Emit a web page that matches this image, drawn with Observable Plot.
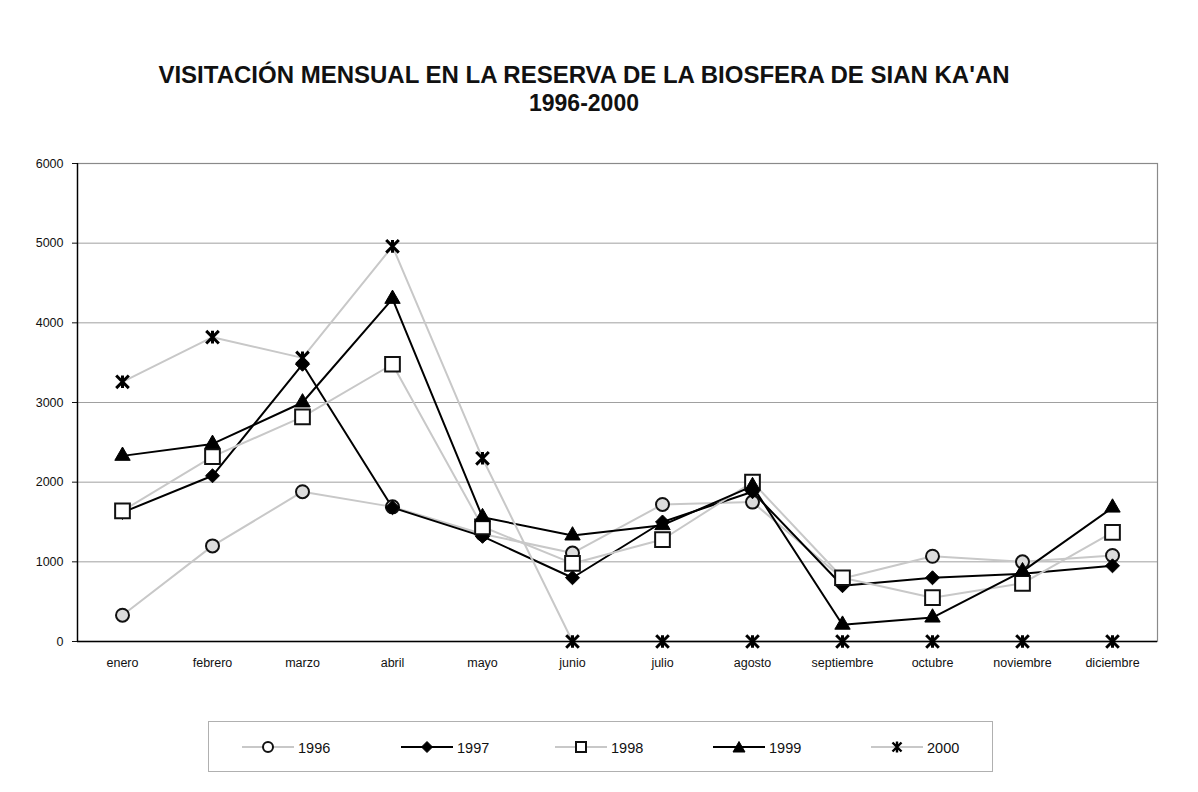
<!DOCTYPE html>
<html>
<head>
<meta charset="utf-8">
<script src="https://cdn.jsdelivr.net/npm/d3@7"></script>
<script src="https://cdn.jsdelivr.net/npm/@observablehq/plot@0.6"></script>
<style>
  html, body { margin: 0; padding: 0; background: #ffffff; }
  #wrap { position: relative; width: 1198px; height: 792px; font-family: "Liberation Sans", Arial, sans-serif; }
  #title { height: 120px; width: 1168px; text-align: center; font-weight: bold; color: #111; }
  #title .l1 { padding-top: 62px; font-size: 24px; line-height: 26px; display: block; }
  #title .l2 { font-size: 23px; line-height: 26px; display: block; margin-top: 2px; }
  #chart svg { display: block; }
  #legend { position: absolute; left: 208px; top: 721px; width: 785px; height: 51px; border: 1px solid #b0b0b0; box-sizing: border-box; }
  .item { position: absolute; top: 0; height: 51px; }
  .item svg { position: absolute; top: 17px; }
  .item span { position: absolute; top: 17px; font-size: 14.5px; line-height: 18px; color: #111; }
</style>
</head>
<body>
<div id="wrap">
  <div id="title"><span class="l1">VISITACIÓN MENSUAL EN LA RESERVA DE LA BIOSFERA DE SIAN KA'AN</span><span class="l2">1996-2000</span></div>
  <div id="chart"></div>
  <div id="legend"></div>
</div>
<script>
// ---- data ----
const months = ["enero","febrero","marzo","abril","mayo","junio","julio","agosto","septiembre","octubre","noviembre","diciembre"];
const years = ["1996","1997","1998","1999","2000"];
const v1996 = [330, 1200, 1880, 1690, 1350, 1110, 1720, 1750, 790, 1070, 1000, 1080];
const v1997 = [1620, 2080, 3480, 1680, 1320, 800, 1500, 1880, 700, 800, 850, 950];
const v1998 = [1640, 2320, 2820, 3480, 1440, 980, 1280, 2000, 800, 550, 730, 1370];
const v1999 = [2330, 2480, 3000, 4300, 1560, 1330, 1460, 1950, 210, 300, 880, 1680];
const v2000 = [3260, 3820, 3560, 4960, 2300, 0, 0, 0, 0, 0, 0, 0];
const yTicks = [0, 1000, 2000, 3000, 4000, 5000, 6000];

const seriesValues = {"1996": v1996, "1997": v1997, "1998": v1998, "1999": v1999, "2000": v2000};
const rows = years.flatMap(y => months.map((m, i) => ({year: y, month: m, value: seriesValues[y][i]})));
const bySeries = y => rows.filter(d => d.year === y);

// Excel-like star marker: an X with a vertical bar
const starSymbol = {
  draw(context, size) {
    const r = Math.sqrt(size / Math.PI);
    context.moveTo(-r, -r); context.lineTo(r, r);
    context.moveTo(-r, r); context.lineTo(r, -r);
    context.moveTo(0, -r); context.lineTo(0, r);
  }
};

// ---- styles ----
const LIGHT = "#c8c8c8";
const styles = {
  "1996": {line: LIGHT, symbol: "circle", r: 6.5, fill: "#dcdcdc", stroke: "#111", sw: 2},
  "1997": {line: "#000", symbol: "diamond2", r: 6.3, fill: "#000", stroke: "#000", sw: 1},
  "1998": {line: LIGHT, symbol: "square", r: 8.3, fill: "#fff", stroke: "#111", sw: 2},
  "1999": {line: "#000", symbol: "triangle", r: 5.7, fill: "#000", stroke: "#000", sw: 1},
  "2000": {line: LIGHT, symbol: starSymbol, r: 6.3, fill: "none", stroke: "#000", sw: 3}
};

const marks = [
  Plot.ruleY(yTicks.filter(t => t > 0 && t < 6000), {stroke: "#a0a0a0", strokeWidth: 1}),
  Plot.frame({stroke: "#8a8a8a", strokeWidth: 1.2}),
  Plot.axisY({ticks: yTicks, tickSize: 5, tickPadding: 9, tickFormat: d => String(d), fontSize: 12.5}),
  Plot.axisX({tickSize: 0, tickPadding: 17, fontSize: 12.5})
];
for (const y of years) {
  const s = styles[y];
  marks.push(Plot.line(bySeries(y), {x: "month", y: "value", stroke: s.line, strokeWidth: 2}));
}
for (const y of years) {
  const s = styles[y];
  marks.push(Plot.dot(bySeries(y), {x: "month", y: "value", symbol: s.symbol, r: s.r,
    fill: s.fill, stroke: s.stroke, strokeWidth: s.sw}));
}
marks.push(Plot.ruleY([0], {stroke: "#000", strokeWidth: 1.6}));
marks.push(Plot.ruleX([months[0]], {y1: 0, y2: 6000, stroke: "#000", strokeWidth: 1.4, dx: -45}));

const chart = Plot.plot({
  width: 1198,
  height: 600,
  marginTop: 43,
  marginBottom: 79,
  marginLeft: 77,
  marginRight: 41,
  style: {fontFamily: "'Liberation Sans', Arial, sans-serif", fontSize: "12.5px", color: "#111", background: "transparent"},
  x: {type: "point", domain: months, padding: 0.5, label: null},
  y: {domain: [0, 6000], label: null},
  marks
});
document.getElementById("chart").appendChild(chart);

// ---- legend ----
const legend = document.getElementById("legend");
const centers = [59, 218, 372, 530, 688];
const symPaths = {
  circle: '<circle cx="30" cy="8" r="5" />',
  diamond2: '<path d="M30,2.5L35.5,8L30,13.5L24.5,8Z" />',
  square: '<rect x="25" y="3" width="10" height="10" />',
  triangle: '<path d="M30,2.5L36,13L24,13Z" />',
  star: '<path d="M30,2.5V13.5M25.5,3.5L34.5,12.5M25.5,12.5L34.5,3.5" />'
};
years.forEach((y, i) => {
  const s = styles[y];
  const key = typeof s.symbol === "string" ? s.symbol : "star";
  const div = document.createElement("div");
  div.className = "item";
  div.style.left = (centers[i] - 30) + "px";
  div.innerHTML = `<svg width="60" height="16" style="left:0">
      <line x1="4" x2="56" y1="8" y2="8" stroke="${s.line}" stroke-width="2"/>
      <g fill="${s.fill === "#dcdcdc" ? "#fff" : s.fill}" stroke="${s.stroke}" stroke-width="${key === "star" ? 2.4 : s.sw}">${symPaths[key]}</g>
    </svg><span style="left:60px">${y}</span>`;
  legend.appendChild(div);
});
</script>
</body>
</html>
